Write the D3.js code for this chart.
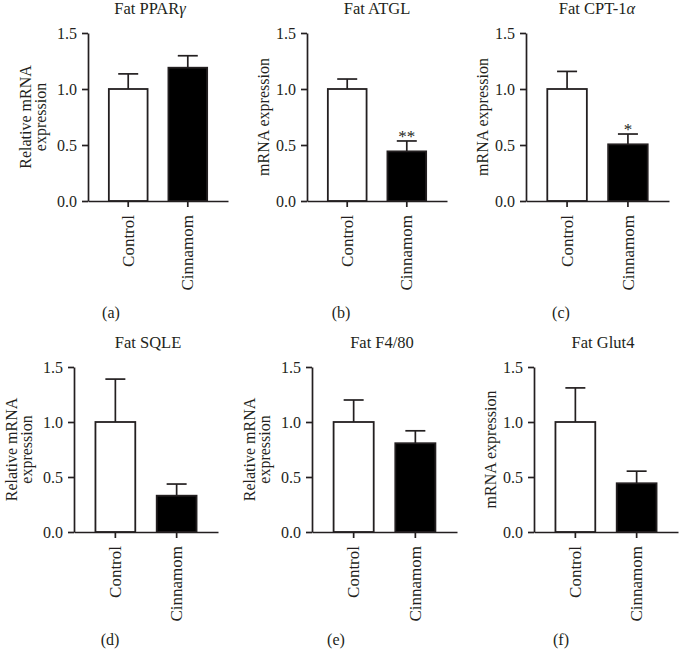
<!DOCTYPE html>
<html>
<head>
<meta charset="utf-8">
<script src="https://cdn.jsdelivr.net/npm/d3@7"></script>
<style>
  html, body { margin: 0; padding: 0; background: #fff; }
  svg { display: block; }
  text { font-family: "Liberation Serif", "Times New Roman", serif; fill: #231f20; }
</style>
</head>
<body>
<svg id="chart" width="680" height="651"></svg>
<script>
// ---- data ----
const categories = ["Control", "Cinnamom"];
const titleText = ["Fat PPAR", "Fat ATGL", "Fat CPT-1", "Fat SQLE", "Fat F4/80", "Fat Glut4"];
const titleGreek = ["γ", "", "α", "", "", ""];
const panelLabels = ["(a)", "(b)", "(c)", "(d)", "(e)", "(f)"];
const yLabels = [
  ["Relative mRNA", "expression"],
  ["mRNA expression"],
  ["mRNA expression"],
  ["Relative mRNA", "expression"],
  ["Relative mRNA", "expression"],
  ["mRNA expression"]
];
const controlMeans  = [1.00, 1.00, 1.00, 1.00, 1.00, 1.00];
const cinnamonMeans = [1.19, 0.443, 0.506, 0.33, 0.807, 0.443];
const controlErr    = [0.135, 0.089, 0.157, 0.39, 0.20, 0.31];
const cinnamonErr   = [0.107, 0.093, 0.092, 0.106, 0.113, 0.11];
const stars = ["", "**", "*", "", "", ""];
const yTicks = [0, 0.5, 1.0, 1.5];
const yMax = 1.5;

// ---- layout (pixel geometry of each panel) ----
const layout = [
  { ax: 88,  end: 228, y0: 201, yTop: 33,  lab: 111, labY: 318, titleX: 150, titleY: 14 },
  { ax: 307, end: 447, y0: 201, yTop: 33,  lab: 341, labY: 318, titleX: 377, titleY: 14 },
  { ax: 526, end: 669, y0: 201, yTop: 33,  lab: 561, labY: 318, titleX: 597, titleY: 14 },
  { ax: 74,  end: 218, y0: 532, yTop: 367, lab: 110, labY: 645, titleX: 148, titleY: 348 },
  { ax: 312, end: 457, y0: 532, yTop: 367, lab: 336, labY: 645, titleX: 382, titleY: 348 },
  { ax: 534, end: 678, y0: 532, yTop: 367, lab: 561, labY: 645, titleX: 603, titleY: 348 }
];

const FONT = 16;
const XFONT = 17;
const TFONT = 16.5;
const ink = "#231f20";
const svg = d3.select("#chart");

layout.forEach((L, i) => {
  const g = svg.append("g");
  const x = d3.scaleBand().domain(categories).range([L.ax, L.end])
    .paddingInner(0.35).paddingOuter(0.35);
  const y = d3.scaleLinear().domain([0, yMax]).range([L.y0, L.yTop]);

  const vals = [
    { cat: categories[0], v: controlMeans[i], e: controlErr[i], fill: "#ffffff" },
    { cat: categories[1], v: cinnamonMeans[i], e: cinnamonErr[i], fill: "#000000" }
  ];

  // error bars (upper only)
  vals.forEach(d => {
    const cx = x(d.cat) + x.bandwidth() / 2;
    g.append("line").attr("x1", cx).attr("x2", cx)
      .attr("y1", y(d.v)).attr("y2", y(d.v + d.e))
      .attr("stroke", ink).attr("stroke-width", 1.7);
    g.append("line").attr("x1", cx - 10).attr("x2", cx + 10)
      .attr("y1", y(d.v + d.e)).attr("y2", y(d.v + d.e))
      .attr("stroke", ink).attr("stroke-width", 1.7);
  });

  // bars
  g.selectAll("rect.bar").data(vals).enter().append("rect")
    .attr("class", "bar")
    .attr("x", d => x(d.cat))
    .attr("y", d => y(d.v))
    .attr("width", x.bandwidth())
    .attr("height", d => y(0) - y(d.v))
    .attr("fill", d => d.fill)
    .attr("stroke", ink).attr("stroke-width", 1.8);

  // y axis
  const yAx = g.append("g").attr("transform", `translate(${L.ax},0)`)
    .call(d3.axisLeft(y).tickValues(yTicks).tickFormat(d3.format(".1f"))
      .tickSize(6).tickSizeOuter(0).tickPadding(5));
  yAx.select(".domain").attr("stroke", ink).attr("stroke-width", 1.7);
  yAx.selectAll(".tick line").attr("stroke", ink).attr("stroke-width", 1.7);
  yAx.selectAll("text").attr("font-size", FONT)
    .style("font-family", '"Liberation Serif", serif').attr("fill", ink);

  // x axis
  const xAx = g.append("g").attr("transform", `translate(0,${L.y0})`)
    .call(d3.axisBottom(x).tickSize(6).tickSizeOuter(0));
  xAx.select(".domain").attr("stroke", ink).attr("stroke-width", 1.7);
  xAx.selectAll(".tick line").attr("stroke", ink).attr("stroke-width", 1.7);
  xAx.selectAll("text")
    .attr("font-size", XFONT)
    .style("font-family", '"Liberation Serif", serif').attr("fill", ink)
    .attr("transform", "rotate(-90)")
    .attr("x", -14).attr("y", 0).attr("dy", "0.33em")
    .style("text-anchor", "end");

  // significance
  if (stars[i]) {
    const d = vals[1];
    g.append("text")
      .attr("x", x(d.cat) + x.bandwidth() / 2)
      .attr("y", y(d.v + d.e) + 1)
      .attr("text-anchor", "middle")
      .attr("font-size", XFONT)
      .text(stars[i]);
  }

  // title
  const t = g.append("text")
    .attr("x", L.titleX)
    .attr("y", L.titleY)
    .attr("text-anchor", "middle")
    .attr("font-size", TFONT);
  t.append("tspan").text(titleText[i]);
  if (titleGreek[i]) t.append("tspan").attr("font-style", "italic").text(titleGreek[i]);

  // y label
  const yc = (L.y0 + L.yTop) / 2;
  const lines = yLabels[i];
  const offsets = lines.length === 2 ? [-57, -42] : [-38];
  lines.forEach((ln, k) => {
    g.append("text")
      .attr("transform", `translate(${L.ax + offsets[k]},${yc}) rotate(-90)`)
      .attr("text-anchor", "middle")
      .attr("font-size", FONT)
      .text(ln);
  });

  // panel label
  g.append("text")
    .attr("x", L.lab).attr("y", L.labY)
    .attr("text-anchor", "middle")
    .attr("font-size", FONT)
    .text(panelLabels[i]);
});
</script>
</body>
</html>
